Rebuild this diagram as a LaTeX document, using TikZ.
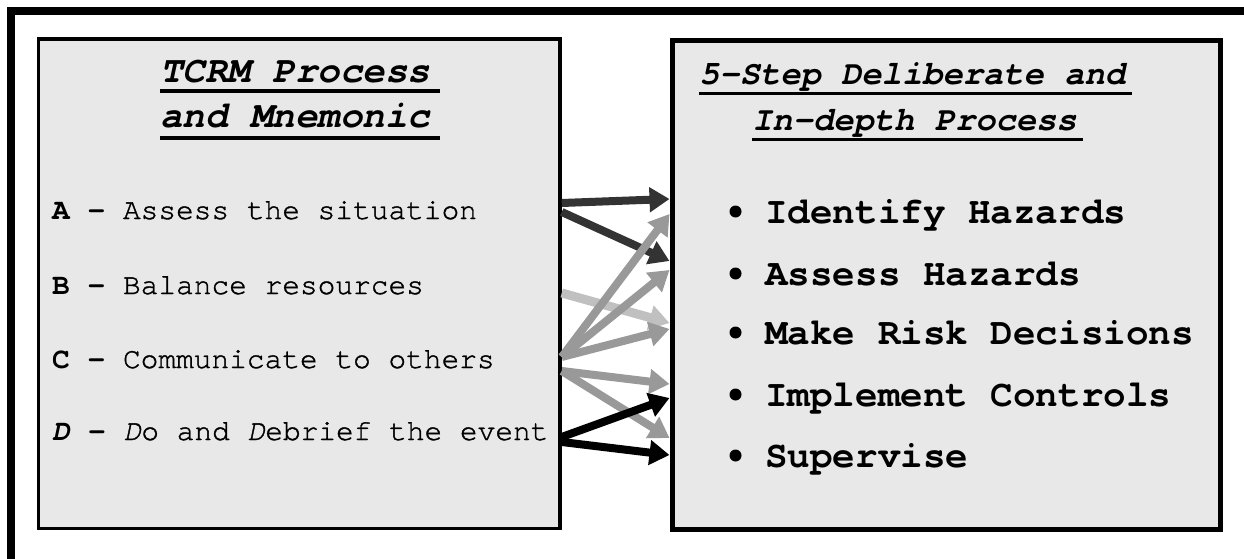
\documentclass[tikz,border=0pt]{standalone}
\usepackage{fontspec}
\setmonofont{texgyrecursor}[Extension=.otf,UprightFont=*-regular,BoldFont=*-bold,ItalicFont=*-italic,BoldItalicFont=*-bolditalic,UprightFeatures={FakeBold=1.2},ItalicFeatures={FakeBold=1.2}]
\usetikzlibrary{arrows.meta,calc}
\definecolor{boxfill}{HTML}{E8E8E8}
\definecolor{darkarr}{HTML}{333333}
\definecolor{midarr}{HTML}{999999}
\definecolor{lightarr}{HTML}{C0C0C0}
\begin{document}
\begin{tikzpicture}[x=1pt,y=-1pt,
  panel/.style={draw=black,fill=boxfill,inner sep=0pt},
  lefttxt/.style={anchor=base west,inner sep=0pt,font=\fontsize{29.5}{30}\ttfamily},
  righttxt/.style={anchor=base west,inner sep=0pt,font=\fontsize{37.6}{38}\ttfamily\bfseries},
  ltitle/.style={anchor=base west,inner sep=0pt,font=\fontsize{37.5}{38}\ttfamily\bfseries\itshape},
  rtitle/.style={anchor=base west,inner sep=0pt,font=\fontsize{33.8}{34}\ttfamily\bfseries\itshape},
  ul/.style={line width=3.5pt},
  bul/.style={circle,fill=black,inner sep=0pt,minimum size=12pt},
  conn/.style={line width=8pt,-{Triangle[length=20pt,width=24pt]}},
]
\useasboundingbox (0,0) rectangle (1244,559);
\fill[white] (0,0) rectangle (1244,559);
\begin{scope}
\clip (0,0) rectangle (1244,559);
\draw[line width=8pt] (11,600) -- (11,11) -- (1300,11);
\end{scope}

% boxes
\node[panel,line width=3.5pt,minimum width=521.5pt,minimum height=489.5pt] (lbox) at (299.25,283.75) {};
\node[panel,line width=5pt,minimum width=548pt,minimum height=488pt] (rbox) at (946,285) {};

% left title
\node[ltitle] (lt1) at (160,83) {TCRM Process};
\node[ltitle] (lt2) at (160,128) {and Mnemonic};
\draw[ul] ($(lt1.base west)+(0,8)$) -- ($(lt1.base east)+(10,8)$);
\draw[ul] ($(lt2.base west)+(0,10)$) -- ($(lt2.base east)+(10,10)$);

% right title
\node[rtitle] (rt1) at (699,85) {5-Step Deliberate and};
\node[rtitle] (rt2) at (752,131) {In-depth Process};
\draw[ul] ($(rt1.base west)+(0,8.5)$) -- ($(rt1.base east)+(7,8.5)$);
\draw[ul] ($(rt2.base west)+(0,8.5)$) -- ($(rt2.base east)+(6,8.5)$);

% left items
\node[lefttxt] (ta) at (52,219) {\textbf{A -} Assess the situation};
\node[lefttxt] (tb) at (52,294) {\textbf{B -} Balance resources};
\node[lefttxt] (tc) at (52,368) {\textbf{C -} Communicate to others};
\node[lefttxt] (td) at (52,440) {\textbf{\textit{D} -} \textit{D}o and \textit{D}ebrief the event};

% right items
\node[righttxt] (r1) at (765,223) {Identify Hazards};
\node[righttxt] (r2) at (765,285) {Assess Hazards};
\node[righttxt] (r3) at (765,344) {Make Risk Decisions};
\node[righttxt] (r4) at (765,406) {Implement Controls};
\node[righttxt] (r5) at (765,467) {Supervise};
\node[bul] (b1) at (735.5,211.5) {};
\node[bul] (b2) at (735.5,273.5) {};
\node[bul] (b3) at (735.5,332.5) {};
\node[bul] (b4) at (735.5,394.5) {};
\node[bul] (b5) at (735.5,455.5) {};

% connectors
\draw[conn,darkarr] (lbox.east |- 0,203) -- (rbox.west |- 0,199);
\draw[conn,darkarr] (lbox.east |- 0,212) -- (rbox.west |- 0,261);
\draw[conn,lightarr,line width=9pt] (lbox.east |- 0,293) -- (rbox.west |- 0,323);
\draw[conn,midarr] (lbox.east |- 0,357) -- (rbox.west |- 0,214);
\draw[conn,midarr] (lbox.east |- 0,357) -- (rbox.west |- 0,270);
\draw[conn,midarr] (lbox.east |- 0,357) -- (rbox.west |- 0,329);
\draw[conn,midarr] (lbox.east |- 0,371) -- (rbox.west |- 0,384);
\draw[conn,midarr] (lbox.east |- 0,371) -- (rbox.west |- 0,438);
\draw[conn,black] (lbox.east |- 0,437) -- (rbox.west |- 0,398);
\draw[conn,black] (lbox.east |- 0,442) -- (rbox.west |- 0,455);
\end{tikzpicture}
\end{document}
